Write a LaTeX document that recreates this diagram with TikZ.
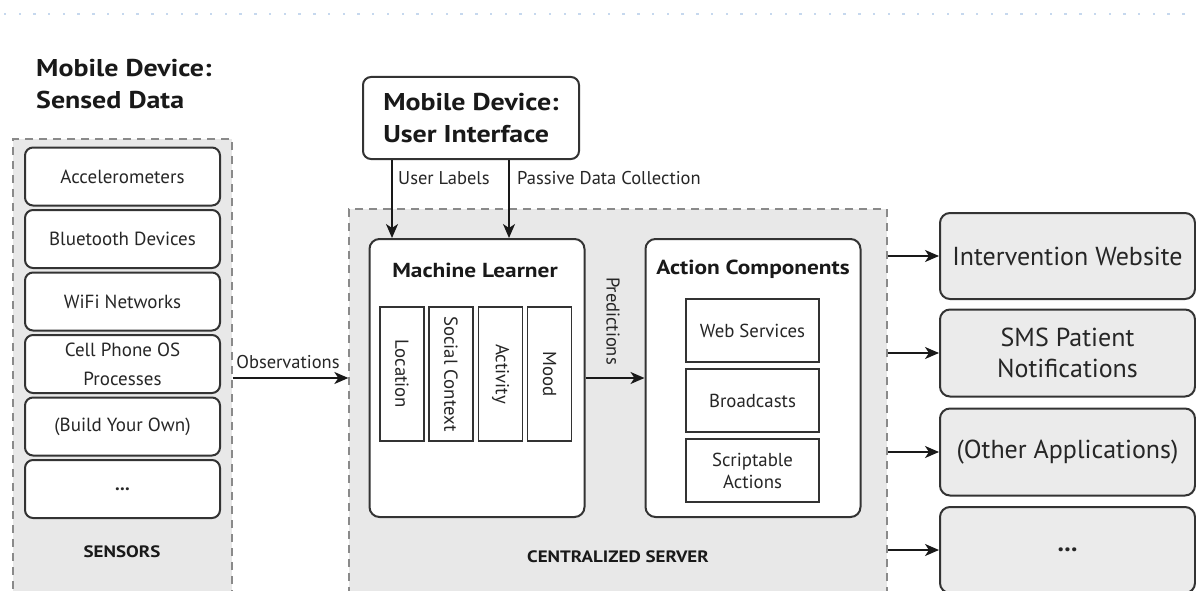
\documentclass[tikz,border=0pt]{standalone}
\usepackage{fontspec}
\setmainfont{PT Sans}
\newfontfamily\bfam{PT Sans}[FakeStretch=1.15]
\usetikzlibrary{arrows.meta,calc}
\definecolor{boxline}{HTML}{333333}
\definecolor{txt}{HTML}{262626}
\definecolor{panelfill}{HTML}{E8E8E8}
\definecolor{outfill}{HTML}{EBEBEB}
\definecolor{dashc}{HTML}{8A8A8A}
\definecolor{dotc}{HTML}{C6D8EE}
\tikzset{
  container/.style={draw=dashc, dash pattern=on 8pt off 6pt, line width=1.3pt, fill=panelfill, inner sep=0pt},
  sensorbox/.style={draw=boxline, line width=2pt, rounded corners=8pt, fill=white, minimum width=195pt, minimum height=58pt, text=txt, font=\fontsize{19}{29}\selectfont, align=center, inner sep=0pt},
  outbox/.style={draw=boxline, line width=2pt, rounded corners=10pt, fill=outfill, minimum width=255pt, minimum height=86pt, text=txt, font=\fontsize{26}{31}\selectfont, align=center, inner sep=0pt},
  panel/.style={draw=boxline, line width=2pt, rounded corners=10pt, fill=white, minimum width=215pt, minimum height=278pt, inner sep=0pt},
  subv/.style={draw=boxline, line width=1.8pt, fill=white, minimum width=134pt, minimum height=44pt, rotate=-90, text=txt, font=\fontsize{18.8}{20}\selectfont, inner sep=0pt},
  subh/.style={draw=boxline, line width=1.8pt, fill=white, minimum width=133pt, minimum height=63pt, text=txt, font=\fontsize{18.8}{22}\selectfont, align=center, inner sep=0pt},
  title/.style={text=black!90, font=\bfam\bfseries\fontsize{24.3}{32}\selectfont, align=left, inner sep=0pt},
  ptitle/.style={text=black!90, font=\bfam\bfseries\fontsize{20.3}{24}\selectfont, inner sep=0pt},
  captxt/.style={text=black!90, font=\bfam\bfseries\fontsize{16.5}{20}\selectfont, inner sep=0pt},
  lbl/.style={text=txt, font=\fontsize{18.5}{20}\selectfont, inner sep=0pt},
  arr/.style={draw=black!90, line width=1.8pt, -{Stealth[length=14pt,width=12pt,inset=4pt]}}
}
\begin{document}
\begin{tikzpicture}[x=1pt,y=-1pt]
\useasboundingbox (0,0) rectangle (1196,591);
\clip (0,0) rectangle (1196,591);
\fill[white] (0,0) rectangle (1196,591);
% top dotted rule
\foreach \i in {0,...,80} \fill[dotc] ({5+\i*14.73-1.2},12.8) rectangle +(2.4,2.4);

% containers
\node[container, minimum width=219pt, minimum height=520pt] (sens) at (122.5,399) {};
\node[container, minimum width=538pt, minimum height=450pt] (srv) at (618,434) {};

% sensed data title
\node[title, anchor=base west] (sdtitle) at (36,109) {Mobile Device:\\Sensed Data};

% sensors
\node[sensorbox] (s1) at (122.5,176.5) {Accelerometers};
\node[sensorbox] (s2) at (122.5,239) {Bluetooth Devices};
\node[sensorbox] (s3) at (122.5,301.5) {WiFi Networks};
\node[sensorbox] (s4) at (122.5,364) {Cell Phone OS\\Processes};
\node[sensorbox] (s5) at (122.5,426.5) {(Build Your Own)};
\node[sensorbox] (s6) at (122.5,489) {\textbf{...}};
\node[captxt] (senslbl) at (122,552) {SENSORS};

% user interface
\node[draw=boxline, line width=2pt, rounded corners=8pt, fill=white, minimum width=216pt, minimum height=82pt, title] (ui) at (471,118) {Mobile Device:\\User Interface};

% machine learner
\node[panel] (ml) at (477,378) {};
\node[ptitle] (mltitle) at (475,270) {Machine Learner};
\node[subv] (loc) at (402,374) {Location};
\node[subv] (soc) at (451,374) {Social Context};
\node[subv] (act) at (500.5,374) {Activity};
\node[subv] (mood) at (549.5,374) {Mood};

% action components
\node[panel] (ac) at (753,378) {};
\node[ptitle] (actitle) at (753,269) {Action Components};
\node[subh] (ws) at (752.5,330.5) {Web Services};
\node[subh] (bc) at (752.5,400.5) {Broadcasts};
\node[subh] (sa) at (752.5,470.5) {Scriptable\\Actions};

\node[captxt] (srvlbl) at (618,557) {CENTRALIZED SERVER};

% outputs
\node[outbox] (r1) at (1067.5,256) {Intervention Website};
\node[outbox, minimum height=87pt] (r2) at (1067.5,353) {SMS Patient\\Notifications};
\node[outbox, minimum height=87pt] (r3) at (1067.5,452) {(Other Applications)};
\node[outbox] (r4) at (1067.5,550) {\textbf{...}};

% connectors
\coordinate (obsy) at (0,378);
\draw[arr] (sens.east |- obsy) -- (srv.west |- obsy);
\node[lbl, anchor=base] (obs) at (288,368) {Observations};

\coordinate (ax1) at (392,0);
\coordinate (ax2) at (509,0);
\draw[arr] (ui.south -| ax1) -- (ml.north -| ax1);
\draw[arr] (ui.south -| ax2) -- (ml.north -| ax2);
\node[lbl, anchor=west] (ulab) at (398,178) {User Labels};
\node[lbl, anchor=west] (pdc) at (517,178) {Passive Data Collection};

\draw[arr] (ml.east) -- (ac.west);
\node[lbl, rotate=-90] (pred) at (613,321) {Predictions};

\draw[arr] (srv.east |- r1.west) -- (r1.west);
\draw[arr] (srv.east |- r2.west) -- (r2.west);
\draw[arr] (srv.east |- r3.west) -- (r3.west);
\draw[arr] (srv.east |- r4.west) -- (r4.west);
\end{tikzpicture}
\end{document}
